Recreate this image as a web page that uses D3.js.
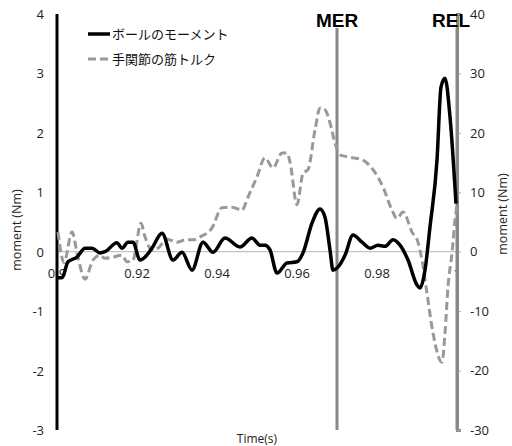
<!DOCTYPE html>
<html>
<head>
<meta charset="utf-8">
<script src="https://cdn.jsdelivr.net/npm/d3@7"></script>
<style>
  body { margin: 0; background: #fff; }
  svg { display: block; font-family: "Open Sans", "Noto Sans", sans-serif; }
</style>
</head>
<body>
<div id="chart"></div>
<script>
// ball moment (left axis, Nm)
const ballTime = [0.9, 0.90125, 0.90275, 0.905, 0.907, 0.90875, 0.91075, 0.912, 0.915, 0.91625, 0.91775, 0.919,
  0.92075, 0.922, 0.92375, 0.92625, 0.929, 0.93125, 0.93375, 0.9365, 0.939, 0.942, 0.94575, 0.94875,
  0.95075, 0.952, 0.95325, 0.955, 0.9575, 0.96, 0.9615, 0.96375, 0.96575, 0.967, 0.96825, 0.969,
  0.97025, 0.972, 0.974, 0.97625, 0.97825, 0.98025, 0.982, 0.984, 0.98575, 0.98775, 0.99, 0.99075,
  0.992, 0.99325, 0.995, 0.996, 0.997, 0.99825, 0.99975];
const ballMoment = [-0.44, -0.44, -0.17, -0.09, 0.06, 0.06, -0.02, 0.0, 0.15, 0.06, 0.16, 0.16,
  -0.14, -0.09, 0.06, 0.31, -0.14, -0.01, -0.31, 0.16, -0.01, 0.23, 0.08, 0.23,
  0.11, 0.11, 0.03, -0.36, -0.19, -0.17, -0.02, 0.48, 0.72, 0.58, 0.03, -0.31,
  -0.26, -0.06, 0.28, 0.16, 0.06, 0.11, 0.09, 0.2, 0.11, -0.14, -0.56, -0.61,
  -0.31, 0.42, 1.54, 2.77, 2.92, 2.27, 0.81];

// wrist muscle torque (right axis, Nm)
const wristTime = [0.90025, 0.90175, 0.90375, 0.90525, 0.907, 0.909, 0.91075, 0.912, 0.914, 0.91625, 0.9175, 0.919,
  0.921, 0.922, 0.92375, 0.92525, 0.9275, 0.93, 0.932, 0.934, 0.93575, 0.93875, 0.94125, 0.94375,
  0.94625, 0.94775, 0.95, 0.952, 0.954, 0.95625, 0.9575, 0.95825, 0.96, 0.9615, 0.96275, 0.9645,
  0.96575, 0.967, 0.96825, 0.9695, 0.97075, 0.97325, 0.9765, 0.979, 0.9815, 0.98375, 0.985, 0.9865,
  0.98875, 0.99025, 0.99125, 0.9925, 0.994, 0.99625, 0.997, 0.99775, 0.99875, 0.9995, 1.0];
const wristTorque = [3.3, -1.8, 3.3, -1.0, -4.6, -1.4, -0.6, -1.1, -0.9, -0.6, -1.7, -1.4,
  4.8, 2.5, 0.3, 0.6, 2.1, 1.6, 2.0, 2.0, 2.5, 4.0, 7.4, 7.5,
  7.0, 9.2, 12.6, 15.8, 14.1, 16.6, 16.6, 15.1, 7.9, 13.2, 13.8, 20.5,
  24.2, 23.9, 21.7, 18.3, 16.3, 15.9, 15.4, 13.8, 10.9, 7.0, 5.6, 6.7,
  3.3, 1.6, -1.4, -7.0, -13.7, -18.6, -13.7, -5.9, -0.2, 5.3, 7.9];

const leftTicks = [-3, -2, -1, 0, 1, 2, 3, 4];
const rightTicks = [-30, -20, -10, 0, 10, 20, 30, 40];
const xTicks = [0.9, 0.92, 0.94, 0.96, 0.98, 1];
const markers = [{ name: "MER", t: 0.97 }, { name: "REL", t: 1.0 }];
const seriesNames = ["ボールのモーメント", "手関節の筋トルク"];

const width = 512, height = 446;
const svg = d3.select("#chart").append("svg")
  .attr("width", width)
  .attr("height", height);

const x = d3.scaleLinear().domain([0.9, 1]).range([57, 457]);
const yL = d3.scaleLinear().domain([-3, 4]).range([430, 14]);
const yR = d3.scaleLinear().domain([-30, 40]).range([430, 14]);

// zero line
svg.append("line")
  .attr("x1", x(0.9)).attr("x2", x(1))
  .attr("y1", yL(0)).attr("y2", yL(0))
  .attr("stroke", "#b3b3b3").attr("stroke-width", 1);

// x tick labels sit just under the zero line
svg.selectAll("text.xlab")
  .data(xTicks)
  .enter()
  .append("text")
  .attr("class", "xlab")
  .attr("x", d => x(d))
  .attr("y", yL(0) + 26)
  .attr("text-anchor", "middle")
  .attr("font-size", 13)
  .attr("fill", "#222")
  .text(d => d3.format("~g")(d));

// left axis
svg.append("line")
  .attr("x1", x(0.9)).attr("x2", x(0.9))
  .attr("y1", yL(4)).attr("y2", yL(-3))
  .attr("stroke", "#000").attr("stroke-width", 3);

svg.selectAll("text.ylab")
  .data(leftTicks)
  .enter()
  .append("text")
  .attr("class", "ylab")
  .attr("x", 44)
  .attr("y", d => yL(d) + 5)
  .attr("text-anchor", "end")
  .attr("font-size", 13)
  .attr("fill", "#222")
  .text(d => d);

// right axis via d3.axisRight
const rAxis = svg.append("g")
  .attr("transform", `translate(${x(1)},0)`)
  .call(d3.axisRight(yR).tickValues(rightTicks).tickSize(4).tickPadding(9)
    .tickFormat(d => d));
rAxis.select(".domain").attr("stroke", "#888").attr("stroke-width", 3);
rAxis.selectAll(".tick line").attr("stroke", "#aaa");
rAxis.selectAll(".tick text")
  .attr("font-size", 13)
  .attr("font-family", "\"Open Sans\", sans-serif")
  .attr("fill", "#222");

// MER / REL markers
markers.forEach(m => {
  svg.append("line")
    .attr("x1", x(m.t)).attr("x2", x(m.t))
    .attr("y1", 28).attr("y2", yL(-3))
    .attr("stroke", "#888").attr("stroke-width", 3);
  svg.append("text")
    .attr("x", x(m.t) - (m.name === "REL" ? 6 : 0))
    .attr("y", 27)
    .attr("text-anchor", "middle")
    .attr("font-family", "\"Liberation Sans\", Arial, sans-serif")
    .attr("font-weight", "bold")
    .attr("font-size", 19)
    .attr("fill", "#000")
    .text(m.name);
});

const curve = d3.curveMonotoneX;

const wristLine = d3.line()
  .x((d, i) => x(wristTime[i]))
  .y(d => yR(d))
  .curve(curve);

svg.append("path")
  .datum(wristTorque)
  .attr("d", wristLine)
  .attr("fill", "none")
  .attr("stroke", "#999")
  .attr("stroke-width", 3)
  .attr("stroke-dasharray", "8,4");

const ballLine = d3.line()
  .x((d, i) => x(ballTime[i]))
  .y(d => yL(d))
  .curve(curve);

svg.append("path")
  .datum(ballMoment)
  .attr("d", ballLine)
  .attr("fill", "none")
  .attr("stroke", "#000")
  .attr("stroke-width", 3.5)
  .attr("stroke-linejoin", "round");

// axis titles
svg.append("text")
  .attr("transform", "translate(21,230) rotate(-90)")
  .attr("text-anchor", "middle")
  .attr("font-size", 12.5)
  .attr("fill", "#222")
  .text("moment (Nm)");

svg.append("text")
  .attr("transform", "translate(507,214) rotate(-90)")
  .attr("text-anchor", "middle")
  .attr("font-size", 12.5)
  .attr("fill", "#222")
  .text("moment (Nm)");

svg.append("text")
  .attr("x", 257)
  .attr("y", 443)
  .attr("text-anchor", "middle")
  .attr("font-size", 12)
  .attr("fill", "#222")
  .text("Time(s)");

// legend
const legend = svg.append("g").attr("transform", "translate(88,34)");
legend.append("line")
  .attr("x1", 0).attr("x2", 22).attr("y1", 0).attr("y2", 0)
  .attr("stroke", "#000").attr("stroke-width", 3.5);
legend.append("line")
  .attr("x1", 0).attr("x2", 22).attr("y1", 25).attr("y2", 25)
  .attr("stroke", "#999").attr("stroke-width", 3).attr("stroke-dasharray", "8,4");
legend.selectAll("text")
  .data(seriesNames)
  .enter()
  .append("text")
  .attr("x", 24)
  .attr("y", (d, i) => i * 25 + 5)
  .attr("font-family", "\"Noto Sans CJK JP\", sans-serif")
  .attr("font-size", 13)
  .attr("fill", "#111")
  .text(d => d);
</script>
</body>
</html>
